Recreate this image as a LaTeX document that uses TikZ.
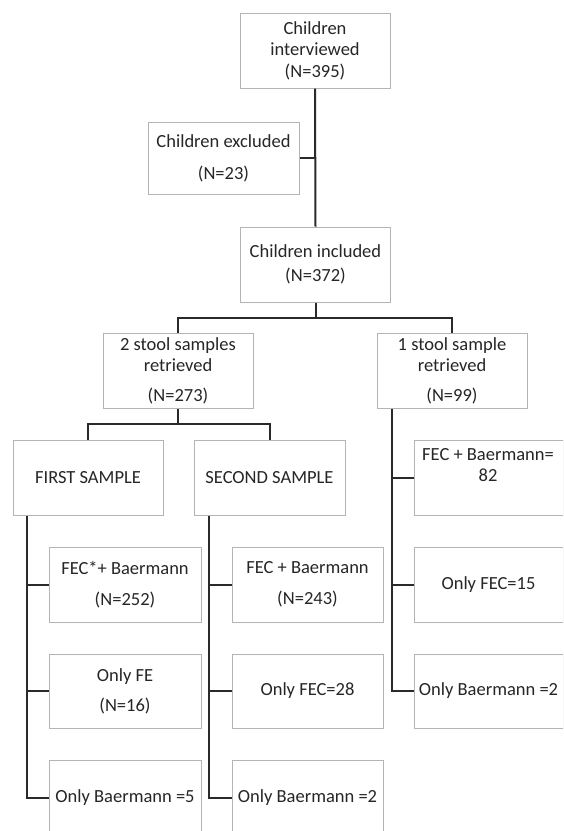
\documentclass[tikz,border=0pt]{standalone}
\usepackage{fontspec}
\setmainfont{Carlito}
\definecolor{boxgray}{HTML}{B4B4B4}
\definecolor{linedark}{HTML}{2A2A2A}
\definecolor{txtdark}{HTML}{262626}
\begin{document}
\begin{tikzpicture}[x=1pt,y=-1pt,
  box/.style={draw=boxgray, line width=1pt, fill=white, minimum width=150pt, minimum height=75pt,
    inner sep=0pt, align=center, text=txtdark, font=\fontsize{18.5}{21.5}\selectfont},
  txt/.style={inner sep=0pt, align=center, text=txtdark, font=\fontsize{18.5}{21.5}\selectfont},
  conn/.style={draw=linedark, line width=2pt}]
\clip (0,0) rectangle (563,831);
\fill[white] (0,0) rectangle (563,831);
% nodes
\node[box] (top) at (315,50.5) {Children\\interviewed\\(N=395)};
\node[box, minimum width=151pt, minimum height=72pt] (excl) at (223.5,158) {Children excluded\\[10.5pt](N=23)};
\node[box] (incl) at (315.5,264.5) {Children included\\[2.5pt](N=372)};
\node[box] (two) at (178,370.5) {2 stool samples\\retrieved\\[8pt](N=273)};
\node[box] (one) at (452,370.5) {1 stool sample\\retrieved\\[8pt](N=99)};
\node[box] (first) at (88,477.5) {FIRST SAMPLE};
\node[box, minimum width=151pt] (second) at (269.5,477.5) {SECOND SAMPLE};
\node[box, minimum width=152pt] (f1) at (125,584.5) {FEC*+ Baermann\\[9.5pt](N=252)};
\node[box, minimum width=152pt, minimum height=74pt] (f2) at (125,691) {Only FE\\[8.5pt](N=16)};
\node[box, minimum width=152pt] (f3) at (125,797.5) {Only Baermann =5};
\node[box, minimum width=151pt] (s1) at (307.5,584.5) {FEC + Baermann\\[9.5pt](N=243)};
\node[box, minimum width=151pt, minimum height=74pt] (s2) at (307.5,691) {Only FEC=28};
\node[box, minimum width=151pt] (s3) at (307.5,797.5) {Only Baermann =2};
\node[box, minimum width=149pt] (r1) at (488.5,477.5) {};
\node[txt] (r1a) at (488,455) {FEC + Baermann=};
\node[txt] (r1b) at (488,475) {82};
\node[box, minimum width=149pt] (r2) at (488.5,584.5) {Only FEC=15};
\node[box, minimum width=149pt, minimum height=74pt] (r3) at (488.5,691) {Only Baermann =2};
% connectors
\draw[conn] (top.south) -- (incl.north);
\draw[conn] (excl.east) -- (excl.east -| top.south);
\coordinate (j1) at (incl.south |- 0,318);
\draw[conn] (incl.south) -- (j1);
\draw[conn] (two.north) |- (j1) -| (one.north);
\coordinate (j2) at (two.south |- 0,424);
\draw[conn] (two.south) -- (j2);
\draw[conn] (first.north) |- (j2) -| (second.north);
\coordinate (fa) at ([xshift=14pt]first.south west);
\draw[conn] (fa) |- (f3.west);
\draw[conn] (f1.west) -- (f1.west -| fa);
\draw[conn] (f2.west) -- (f2.west -| fa);
\coordinate (sa) at ([xshift=15pt]second.south west);
\draw[conn] (sa) |- (s3.west);
\draw[conn] (s1.west) -- (s1.west -| sa);
\draw[conn] (s2.west) -- (s2.west -| sa);
\coordinate (oa) at ([xshift=15pt]one.south west);
\draw[conn] (oa) |- (r3.west);
\draw[conn] (r1.west) -- (r1.west -| oa);
\draw[conn] (r2.west) -- (r2.west -| oa);
\end{tikzpicture}
\end{document}
